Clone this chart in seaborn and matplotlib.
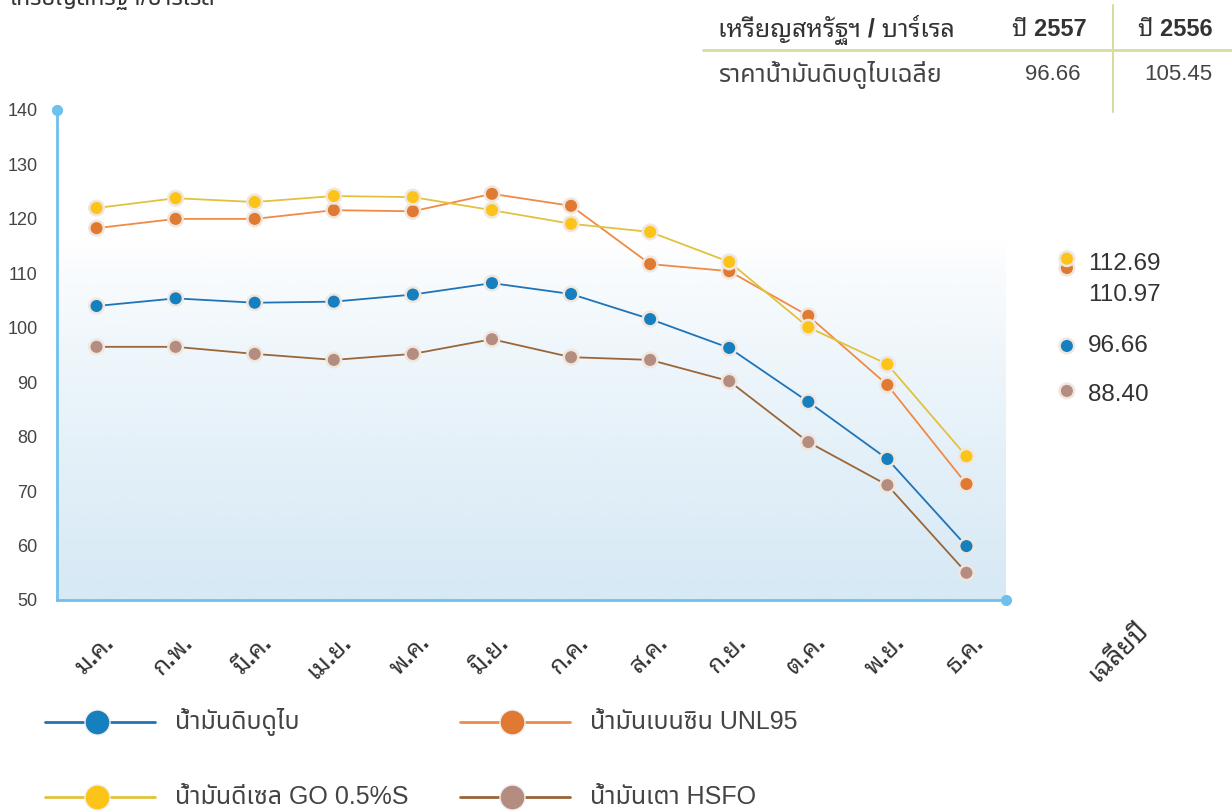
import numpy as np
import pandas as pd
import matplotlib
matplotlib.use('Agg')
import matplotlib.pyplot as plt
import seaborn as sns
from matplotlib.lines import Line2D
from matplotlib.transforms import ScaledTranslation
import matplotlib.colors as mcolors

# ข้อมูลราคาน้ำมันรายเดือน ปี 2557 (เหรียญสหรัฐฯ / บาร์เรล)
months = ["ม.ค.", "ก.พ.", "มี.ค.", "เม.ย.", "พ.ค.", "มิ.ย.",
          "ก.ค.", "ส.ค.", "ก.ย.", "ต.ค.", "พ.ย.", "ธ.ค."]
dubai = [104.0, 105.4, 104.6, 104.8, 106.1, 108.2, 106.2, 101.6, 96.3, 86.4, 75.9, 59.9]
gasoline = [118.3, 120.0, 120.0, 121.6, 121.4, 124.6, 122.4, 111.7, 110.4, 102.2, 89.5, 71.3]
diesel = [122.0, 123.8, 123.1, 124.2, 124.0, 121.6, 119.1, 117.6, 112.1, 100.1, 93.3, 76.4]
hsfo = [96.5, 96.5, 95.2, 94.1, 95.2, 97.9, 94.6, 94.1, 90.2, 79.0, 71.1, 55.0]

series_names = ["น้ำมันดิบดูไบ", "น้ำมันเบนซิน UNL95", "น้ำมันดีเซล GO 0.5%S", "น้ำมันเตา HSFO"]
annual_avg = [96.66, 110.97, 112.69, 88.40]
annual_labels = ["96.66", "110.97", "112.69", "88.40"]
avg_label = "เฉลี่ยปี"

table_header = ["เหรียญสหรัฐฯ / บาร์เรล", "ปี 2557", "ปี 2556"]
table_row = ["ราคาน้ำมันดิบดูไบเฉลี่ย", "96.66", "105.45"]
unit_text = "เหรียญสหรัฐฯ/บาร์เรล"

line_colors = ["#1f74b8", "#f08a45", "#e2c23c", "#9b6637"]
marker_colors = ["#1580bd", "#e07a32", "#fcc419", "#b48d80"]

sns.set_style("white")
plt.rcParams['font.family'] = ['Liberation Sans', 'Noto Sans Thai', 'DejaVu Sans']
looped = ['Liberation Sans', 'Noto Sans Thai Looped', 'Noto Sans Thai', 'DejaVu Sans']

W, H = 1232, 811
fig = plt.figure(figsize=(W / 100, H / 100), dpi=100)


def fx(px):
    return px / W


def fy(py):
    return 1 - py / H


ax = fig.add_axes([fx(57), fy(600), fx(1006) - fx(57), fy(110) - fy(600)])

df = pd.DataFrame({
    "pos": list(range(12)) * 4,
    "value": dubai + gasoline + diesel + hsfo,
    "series": sum([[n] * 12 for n in series_names], []),
})

# พื้นหลังท้องฟ้าไล่เฉด
grad = np.linspace(0, 1, 256)[:, None]
sky = np.zeros((256, 2, 4))
rgb = mcolors.to_rgb("#cfe5f4")
sky[..., 0], sky[..., 1], sky[..., 2] = rgb
sky[..., 3] = np.clip(grad ** 0.8 * 0.85, 0, 0.85)
ax.imshow(sky, extent=[-0.5, 11.5, 50, 116], origin='upper', aspect='auto', zorder=0)

sns.lineplot(data=df, x="pos", y="value", hue="series", hue_order=series_names,
             palette=line_colors, linewidth=1.3, legend=False, ax=ax, zorder=3)
sns.scatterplot(data=df, x="pos", y="value", hue="series", hue_order=series_names,
                palette=marker_colors, s=110, edgecolor="#efe6de", linewidth=1.8,
                legend=False, ax=ax, zorder=4)

# ค่าเฉลี่ยทั้งปี
avg_x = 12.27
ax.scatter([avg_x] * 4, annual_avg, c=marker_colors, s=110, edgecolor="#efe6de",
           linewidth=1.8, clip_on=False, zorder=4)
label_y = [96.66, 106.1, 111.8, 87.6]
for lbl, yv in zip(annual_labels, label_y):
    ax.text(12.54, yv, lbl, fontsize=17.5, color="#333333", va='center', ha='left',
            clip_on=False)

ax.set_xlim(-0.5, 11.5)
ax.set_ylim(50, 140)
ax.set_yticks(range(50, 141, 10))
ax.set_xticks(range(12))
ax.set_xticklabels(months, rotation=45, ha='right', va='center', rotation_mode='anchor',
                   fontsize=17.5, fontweight='bold', color="#333333", family=looped)
ax.set_xticks(np.arange(0.5, 12, 1), minor=True)
ax.tick_params(axis='y', length=0, pad=14, labelsize=13, labelcolor="#444444")
ax.tick_params(axis='x', which='major', length=0, pad=28)
ax.tick_params(axis='x', which='minor', direction='inout', length=26, width=1.3,
               color="#a8d23c")
for lbl in ax.get_xticklabels():
    lbl.set_transform(lbl.get_transform() + ScaledTranslation(10 / 72, 0, fig.dpi_scale_trans))
ax.set_xlabel("")
ax.set_ylabel("")

sns.despine(ax=ax)
for side in ["left", "bottom"]:
    ax.spines[side].set_color("#6ec1ec")
    ax.spines[side].set_linewidth(2)
ax.plot([0], [1], 'o', color="#6ec1ec", markersize=7, transform=ax.transAxes, clip_on=False)
ax.plot([1], [0], 'o', color="#6ec1ec", markersize=7, transform=ax.transAxes, clip_on=False)

fig.text(fx(1136), fy(618), avg_label, rotation=45, rotation_mode='anchor', ha='right',
         va='top', fontsize=19, fontweight='bold', color="#333333", family=looped)

# ตารางมุมขวาบน
fig.add_artist(Line2D([fx(703), 1], [fy(50), fy(50)], color="#d9dca0", linewidth=2))
fig.add_artist(Line2D([fx(1113), fx(1113)], [fy(5), fy(112)], color="#d9dca0", linewidth=1.5))
fig.text(fx(718), fy(30), table_header[0], fontsize=18, fontweight='bold', color="#333333",
         va='center', family=looped)
fig.text(fx(1012), fy(30), table_header[1], fontsize=17, fontweight='bold', color="#333333",
         va='center', family=looped)
fig.text(fx(1138), fy(30), table_header[2], fontsize=17, fontweight='bold', color="#333333",
         va='center', family=looped)
fig.text(fx(718), fy(75), table_row[0], fontsize=18, color="#444444", va='center')
fig.text(fx(1080), fy(75), table_row[1], fontsize=16, color="#444444", va='center', ha='right')
fig.text(fx(1212), fy(75), table_row[2], fontsize=16, color="#444444", va='center', ha='right')

# หน่วย (ถูกตัดขอบบนเหมือนต้นฉบับ)
fig.text(fx(215), fy(5), unit_text, fontsize=17, color="#333333", ha='right', va='baseline')

# คำอธิบายสัญลักษณ์
legend_pos = [(45, 722), (460, 722), (45, 797), (460, 797)]
for (lx, ly), name, lc, mc in zip(legend_pos, series_names, line_colors, marker_colors):
    fig.add_artist(Line2D([fx(lx), fx(lx + 110)], [fy(ly), fy(ly)], color=lc, linewidth=2))
    fig.add_artist(Line2D([fx(lx + 52)], [fy(ly)], marker='o', markersize=18, color=mc,
                          markeredgecolor="#eeeeee", markeredgewidth=1))
    fig.text(fx(lx + 130), fy(ly), name, fontsize=18, color="#444444", va='center')

fig.savefig("out.png", dpi=100)
